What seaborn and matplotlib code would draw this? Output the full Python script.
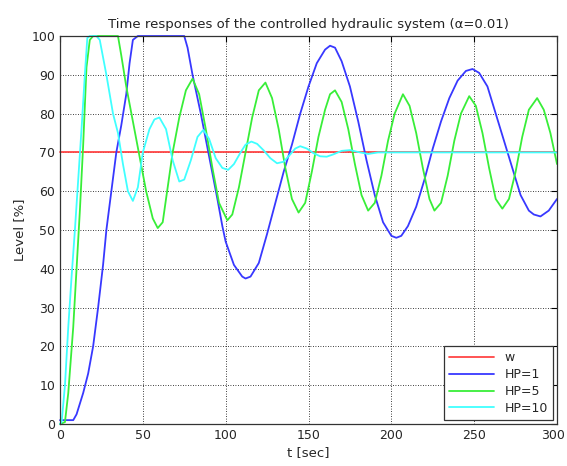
import numpy as np
import pandas as pd
import matplotlib
matplotlib.use("Agg")
import matplotlib.pyplot as plt
import matplotlib.transforms as mtransforms
import seaborn as sns

sns.set_style("white")
plt.rcParams['font.family'] = ['DejaVu Sans']

# reference w
t_w = [0, 300]
y_w = [70, 70]

# HP=1
t_hp1 = [0, 8, 10, 14, 17, 20, 23, 26, 28, 31, 34, 37, 40, 42, 44, 47, 60, 75, 77, 80, 85, 90, 95,
         98, 100, 105, 110, 112, 115, 120, 125, 130, 135, 140, 145, 150, 155, 160, 163, 166, 170,
         175, 180, 185, 190, 195, 200, 203, 206, 210, 215, 220, 225, 230, 235, 240, 245, 249, 253,
         258, 263, 268, 273, 278, 283, 286, 290, 295, 300]
y_hp1 = [1, 1, 2.5, 8, 13, 20, 30, 41, 50, 60, 70, 77, 85, 93, 99, 100, 100, 100, 97, 90, 80, 69, 58,
         51, 47, 41, 38, 37.5, 38, 41.5, 49, 57, 65, 72, 80, 87, 93, 96.5, 97.5, 97, 93.5,
         87, 78, 68, 59, 52, 48.5, 48, 48.5, 51, 56, 63, 71, 78, 84, 88.5, 91, 91.5, 90.5,
         87, 80, 73, 66, 59, 55, 54, 53.5, 55, 58]

# HP=5
t_hp5 = [0, 3, 5, 8, 10, 12, 14, 16, 18, 20, 35, 37, 40, 44, 48, 52, 56, 59, 62, 65, 68, 72, 76, 80,
         84, 88, 92, 96, 101, 104, 108, 112, 116, 120, 124, 128, 132, 136, 140, 144, 148, 152, 156,
         160, 163, 166, 170, 174, 178, 182, 186, 190, 194, 198, 202, 207, 211, 215, 219, 223, 226,
         230, 234, 238, 242, 247, 251, 255, 259, 263, 267, 271, 275, 279, 283, 288, 292, 296, 300]
y_hp5 = [0, 0.5, 8, 25, 40, 55, 72, 92, 99, 100, 100, 95, 87, 78, 69, 60, 53, 50.5, 52, 61, 70, 79, 86, 89,
         85, 76, 66, 57, 52.5, 54, 61, 70, 79, 86, 88, 84, 76, 66, 58, 54.5, 57, 65, 74,
         81, 85, 86, 83, 76, 67, 59, 55, 57, 64, 73, 80, 85, 82, 75, 66, 58, 55,
         57, 64, 73, 80, 84.5, 82, 75, 66, 58, 55.5, 58, 65, 74, 81, 84, 81, 75, 67]

# HP=10
t_hp10 = [0, 1, 3, 5, 7, 9, 11, 13, 15, 16.5, 18, 22, 24, 28, 32, 35, 38, 41, 44, 47, 50, 54, 57, 60,
          64, 68, 72, 75, 79, 83, 86.5, 90, 94, 98, 101.5, 105, 109, 112, 115.5, 119, 123, 127,
          131, 135, 139, 142, 145, 149, 153, 157, 161, 165, 170, 175, 180, 186, 192, 200, 300]
y_hp10 = [0, 0.5, 10, 25, 38, 50, 63, 76, 90, 99.5, 100, 100, 99, 90, 80, 75, 67, 60, 57.5, 61, 70, 76, 78.5, 79,
          76, 68, 62.5, 63, 68, 74, 75.8, 73.5, 68.5, 66, 65.5, 67, 70, 72, 72.8, 72.2, 70.5, 68.5,
          67.2, 67.6, 69.5, 71, 71.6, 71, 69.8, 69, 68.9, 69.5, 70.4, 70.6, 70.1, 69.6, 70, 70, 70]

series = ["w", "HP=1", "HP=5", "HP=10"]
colors = ["#ff4545", "#3838ff", "#38ee38", "#40ffff"]

df = pd.concat([
    pd.DataFrame({"t": t_w, "level": y_w, "series": "w"}),
    pd.DataFrame({"t": t_hp1, "level": y_hp1, "series": "HP=1"}),
    pd.DataFrame({"t": t_hp5, "level": y_hp5, "series": "HP=5"}),
    pd.DataFrame({"t": t_hp10, "level": y_hp10, "series": "HP=10"}),
], ignore_index=True)

fig = plt.figure(figsize=(5.67, 4.66), dpi=100)
ax = fig.add_axes([0.1058, 0.0901, 0.8766, 0.8326])

sns.lineplot(data=df, x="t", y="level", hue="series", hue_order=series,
             palette=dict(zip(series, colors)), estimator=None, sort=False,
             linewidth=1.3, ax=ax)
for ln in ax.lines:
    ln.set_clip_on(False)

ax.set_xlim(0, 300)
ax.set_ylim(0, 100)
ax.set_xticks(np.arange(0, 301, 50))
ax.set_yticks(np.arange(0, 101, 10))
ax.grid(True, color="black", linestyle=(0, (1, 2)), linewidth=0.6)
ax.tick_params(direction="in", top=True, right=True, labelsize=9, length=4, width=0.8, color="black")
for s in ax.spines.values():
    s.set_color("#333333")
    s.set_linewidth(0.9)

# nudge the last x tick label so it stays inside the figure
last = ax.get_xticklabels()[-1]
last.set_transform(last.get_transform() + mtransforms.ScaledTranslation(-4 / 100, 0, fig.dpi_scale_trans))

ax.set_title("Time responses of the controlled hydraulic system (α=0.01)", fontsize=9.5, color="#222222", pad=6)
ax.set_xlabel("t [sec]", fontsize=9.5, labelpad=3)
ax.set_ylabel("Level [%]", fontsize=9.5, labelpad=4)

leg = ax.legend(loc="lower right", fontsize=9, fancybox=False, edgecolor="#333333",
                framealpha=1, borderaxespad=0.35, handlelength=3.6, labelspacing=0.3)
leg.get_frame().set_linewidth(0.9)

fig.savefig("out.png", dpi=100, facecolor="white")
